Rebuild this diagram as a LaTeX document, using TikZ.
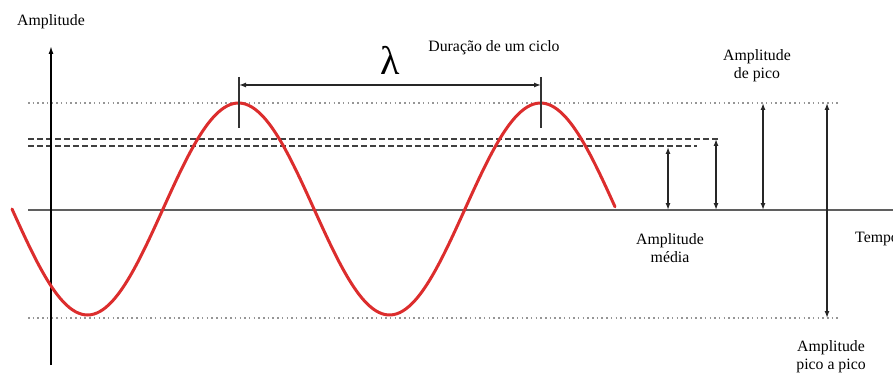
\documentclass[tikz,border=0pt]{standalone}
\usepackage{fontspec}
\setmainfont{Liberation Serif}
\usetikzlibrary{arrows.meta,positioning}
\definecolor{wavecol}{RGB}{220,45,45}
\definecolor{axiscol}{RGB}{95,95,95}
\definecolor{guidecol}{RGB}{150,150,150}
\tikzset{
  lab/.style={font=\fontsize{15.8}{18}\selectfont,align=center,inner sep=0pt},
  wave/.style={draw=wavecol,line width=3pt},
  axis/.style={draw=axiscol,line width=2pt},
  guide/.style={draw=guidecol,line width=1.3pt,dash pattern=on 1.5pt off 3.2pt},
  mean/.style={draw=black!75,line width=1.2pt,dash pattern=on 6pt off 3pt},
  dim/.style={{Latex[length=7pt,width=5pt]}-{Latex[length=7pt,width=5pt]},draw=black!85,line width=1.3pt},
  tick/.style={draw=black!80,line width=1.3pt}
}
\begin{document}
\begin{tikzpicture}[x=1pt,y=-1pt]
  \useasboundingbox (0,0) rectangle (893,374);
  % guide lines
  \coordinate (topL) at (28,103);  \coordinate (topR) at (838,103);
  \coordinate (botL) at (28,318);  \coordinate (botR) at (838,318);
  \coordinate (d1L) at (28,139);   \coordinate (d1R) at (718,139);
  \coordinate (d2L) at (28,146);   \coordinate (d2R) at (697,146);
  \draw[guide] (topL) -- (topR);
  \draw[guide] (botL) -- (botR);
  \draw[mean] (d1L) -- (d1R);
  \draw[mean] (d2L) -- (d2R);
  % axes
  \coordinate (xL) at (28,210); \coordinate (xR) at (893,210);
  \coordinate (yB) at (51,365); \coordinate (yT) at (51,46);
  \draw[axis] (xL) -- (xR);
  \draw[-{Latex[length=8pt,width=5pt]},line width=1.5pt] (yB) -- (yT);
  % signal
  \draw[wave,line cap=round] plot[domain=12:615,samples=200,smooth] (\x,{209+106*sin((\x-12)/302*360)});
  % cycle length
  \coordinate (c1a) at (239,77); \coordinate (c1b) at (239,128);
  \coordinate (c2a) at (541,77); \coordinate (c2b) at (541,128);
  \coordinate (c1) at (239,85);  \coordinate (c2) at (541,85);
  \draw[tick] (c1a) -- (c1b);
  \draw[tick] (c2a) -- (c2b);
  \draw[dim] (c1) -- (c2);
  % amplitude arrows
  \foreach \n/\xa/\ya/\yb in {ma/668/147/210, mb/716/139/210, pk/763/103/210, pp/827/103/318}{
    \coordinate (\n a) at (\xa,\ya); \coordinate (\n b) at (\xa,\yb);
    \draw[dim] (\n a) -- (\n b);}
  % labels
  \node[lab] (ylab) at (51,22) {Amplitude};
  \node[font=\fontsize{40}{40}\selectfont,inner sep=0pt] (lam) at (390,60) {λ};
  \node[lab] (cyc) at (494,48) {Duração de um ciclo};
  \node[lab] (pico) at (757,66) {Amplitude\\de pico};
  \node[lab] (media) at (670,248) {Amplitude\\média};
  \node[lab,anchor=west] (tempo) at (855,239) {Tempo};
  \node[lab] (ppl) at (831,357) {Amplitude\\pico a pico};
\end{tikzpicture}
\end{document}
